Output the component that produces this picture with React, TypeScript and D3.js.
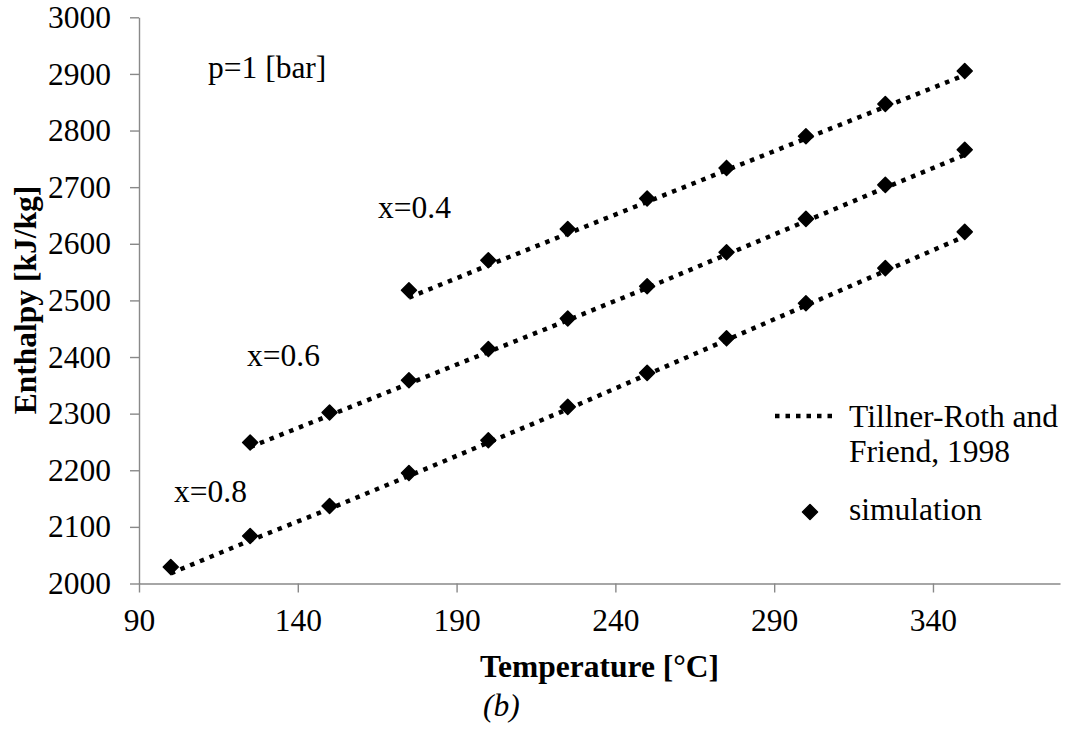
import React, { useEffect, useRef } from 'react';
import * as d3 from 'd3';

// temperatures [°C]
const temps = [100, 125, 150, 175, 200, 225, 250, 275, 300, 325, 350];

// simulation points (enthalpy, kJ/kg)
const sim08 = [2029, 2084, 2137, 2195, 2253, 2312, 2372, 2433, 2495, 2557, 2621];
const sim06 = [2249, 2302, 2359, 2414, 2468, 2525, 2585, 2644, 2704, 2766];
const sim04 = [2518, 2571, 2626, 2680, 2734, 2790, 2847, 2905];

// Tillner-Roth and Friend, 1998 curves
const ref08 = [2018, 2076, 2132, 2190, 2249, 2308, 2369, 2430, 2491, 2552, 2613];
const ref06 = [2241, 2297, 2353, 2409, 2465, 2522, 2581, 2640, 2699, 2757];
const ref04 = [2505, 2562, 2618, 2674, 2730, 2786, 2842, 2898];

const xTicks = [90, 140, 190, 240, 290, 340];
const yTicks = [2000, 2100, 2200, 2300, 2400, 2500, 2600, 2700, 2800, 2900, 3000];

const seriesLabels = [
  { text: 'x=0.4', x: 378, y: 218 },
  { text: 'x=0.6', x: 247, y: 366 },
  { text: 'x=0.8', x: 174, y: 502 },
];

const FONT = '"Liberation Serif", "Times New Roman", serif';
const AXIS = '#898989';
const FS = 31.5;

const App = () => {
  const ref = useRef<SVGSVGElement>(null);

  useEffect(() => {
    const svg = d3.select(ref.current);
    svg.selectAll('*').remove();

    const x = d3.scaleLinear().domain([90, 380]).range([139, 1060]);
    const y = d3.scaleLinear().domain([2000, 3000]).range([583.5, 17.3]);

    const pair = (vals: number[]) => {
      const offset = temps.length - vals.length;
      return vals.map((v, i) => [temps[i + offset], v] as [number, number]);
    };

    // axes
    const gx = svg.append('g')
      .attr('transform', `translate(0,${y(2000)})`)
      .call(d3.axisBottom(x).tickValues(xTicks).tickFormat(d3.format('d')).tickSizeInner(9).tickSizeOuter(0).tickPadding(16));
    const gy = svg.append('g')
      .attr('transform', `translate(${x(90)},0)`)
      .call(d3.axisLeft(y).tickValues(yTicks).tickFormat(d3.format('d')).tickSizeInner(9).tickSizeOuter(0).tickPadding(19));

    [gx, gy].forEach(g => {
      g.attr('font-family', FONT).attr('font-size', FS);
      g.select('.domain').attr('stroke', AXIS).attr('stroke-width', 1.4);
      g.selectAll('.tick line').attr('stroke', AXIS).attr('stroke-width', 1.4);
      g.selectAll('.tick text').attr('fill', '#000');
    });

    // model lines
    const line = d3.line<[number, number]>().x(d => x(d[0])).y(d => y(d[1]));
    [ref08, ref06, ref04].forEach(vals => {
      svg.append('path')
        .datum(pair(vals))
        .attr('d', line)
        .attr('fill', 'none')
        .attr('stroke', '#000')
        .attr('stroke-width', 4.5)
        .attr('stroke-dasharray', '4.5,6');
    });

    // simulation markers
    const diamond = 'M0,-7.5L7.5,0L0,7.5L-7.5,0Z';
    [sim08, sim06, sim04].forEach(vals => {
      svg.append('g')
        .selectAll('path')
        .data(pair(vals))
        .enter()
        .append('path')
        .attr('d', diamond)
        .attr('transform', d => `translate(${x(d[0])},${y(d[1])})`)
        .attr('fill', '#000')
        .attr('stroke', '#000')
        .attr('stroke-width', 1.5)
        .attr('stroke-linejoin', 'round');
    });

    const text = (t: string, tx: number, ty: number, opts: any = {}) =>
      svg.append('text')
        .attr('x', tx)
        .attr('y', ty)
        .attr('text-anchor', opts.anchor || 'start')
        .attr('transform', opts.transform || null)
        .attr('font-family', FONT)
        .attr('font-size', FS)
        .attr('font-weight', opts.bold ? 'bold' : 'normal')
        .attr('font-style', opts.italic ? 'italic' : 'normal')
        .text(t);

    text('p=1 [bar]', 208, 78);
    seriesLabels.forEach(l => text(l.text, l.x, l.y));

    // legend
    svg.append('line')
      .attr('x1', 775).attr('x2', 838).attr('y1', 416).attr('y2', 416)
      .attr('stroke', '#000')
      .attr('stroke-width', 4.5)
      .attr('stroke-dasharray', '4.5,6');
    text('Tillner-Roth and', 849, 427);
    text('Friend, 1998', 849, 462);
    svg.append('path')
      .attr('d', diamond)
      .attr('transform', 'translate(810,512)')
      .attr('fill', '#000')
      .attr('stroke', '#000')
      .attr('stroke-width', 1.5)
      .attr('stroke-linejoin', 'round');
    text('simulation', 849, 520);

    // axis titles
    text('Temperature [°C]', 599.5, 677, { anchor: 'middle', bold: true });
    text('(b)', 483, 716, { italic: true });
    text('Enthalpy [kJ/kg]', 0, 0, {
      anchor: 'middle',
      bold: true,
      transform: 'translate(36,300) rotate(-90)',
    });
  }, []);

  return (
    <div style={{ position: 'absolute', left: 0, top: 0, background: '#fff' }}>
      <svg ref={ref} width={1071} height={729} style={{ display: 'block' }} />
    </div>
  );
};

export default App;
